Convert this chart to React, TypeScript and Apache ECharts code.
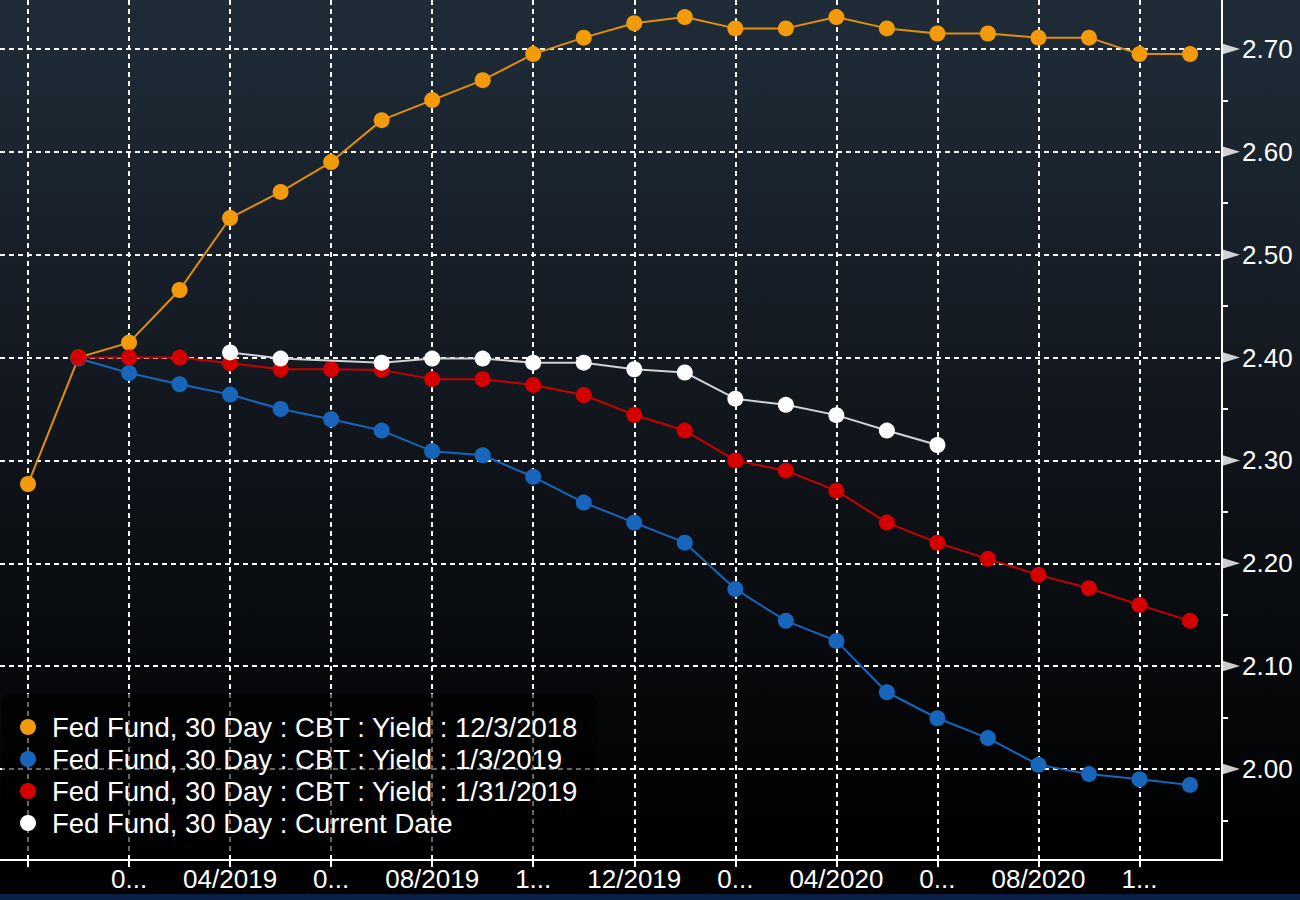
import React, { useEffect, useRef } from "react";
import * as echarts from "echarts";

const FONT = "'Liberation Sans', Arial, sans-serif";

const months = [
  "12/2018", "01/2019", "02/2019", "03/2019", "04/2019", "05/2019", "06/2019", "07/2019",
  "08/2019", "09/2019", "10/2019", "11/2019", "12/2019", "01/2020", "02/2020", "03/2020",
  "04/2020", "05/2020", "06/2020", "07/2020", "08/2020", "09/2020", "10/2020", "11/2020",
];

const xTickIndex = [0, 2, 4, 6, 8, 10, 12, 14, 16, 18, 20, 22];
const xTickLabels = ["", "0...", "04/2019", "0...", "08/2019", "1...", "12/2019", "0...", "04/2020", "0...", "08/2020", "1..."];

const yMajorTicks = [2.0, 2.1, 2.2, 2.3, 2.4, 2.5, 2.6, 2.7];
const yMinorTicks = [1.95, 2.05, 2.15, 2.25, 2.35, 2.45, 2.55, 2.65];

const seriesNames = [
  "Fed Fund, 30 Day : CBT : Yield : 12/3/2018",
  "Fed Fund, 30 Day : CBT : Yield : 1/3/2019",
  "Fed Fund, 30 Day : CBT : Yield : 1/31/2019",
  "Fed Fund, 30 Day : Current Date",
];

const yield20181203 = [
  2.277, 2.4, 2.4145, 2.4657, 2.5357, 2.561, 2.59, 2.6308, 2.6503, 2.6697, 2.695, 2.711,
  2.725, 2.731, 2.72, 2.72, 2.731, 2.72, 2.715, 2.715, 2.711, 2.711, 2.695, 2.695,
];
const yield20190103 = [
  null, 2.399, 2.385, 2.374, 2.364, 2.35, 2.34, 2.329, 2.309, 2.305, 2.284, 2.259,
  2.2395, 2.22, 2.175, 2.144, 2.1245, 2.0746, 2.0493, 2.03, 2.004, 1.995, 1.99, 1.9845,
];
const yield20190131 = [
  null, 2.4, 2.4, 2.4, 2.3945, 2.3886, 2.3886, 2.388, 2.379, 2.379, 2.3734, 2.3636,
  2.3442, 2.329, 2.3, 2.29, 2.2706, 2.2395, 2.22, 2.2043, 2.1887, 2.1757, 2.1595, 2.144,
];
const yieldCurrent = [
  null, null, null, null, 2.405, 2.399, null, 2.395, 2.399, 2.399, 2.395, 2.395,
  2.3886, 2.3855, 2.36, 2.354, 2.344, 2.329, 2.315, null, null, null, null, null,
];

const seriesValues = [yield20181203, yield20190103, yield20190131, yieldCurrent];
const dotColors = ["#f39a0b", "#1766bb", "#d40000", "#ffffff"];
const lineColors = ["#e08f0c", "#1766bb", "#c80000", "#cfd2d6"];

const X_MIN = -0.5542;
const X_MAX = 23.633;
const Y_MIN = 1.9115;
const Y_MAX = 2.7476;

function toPairs(vals: (number | null)[]) {
  return vals.map((v, i) => [i, v]).filter((d) => d[1] !== null);
}

export default function App() {
  const ref = useRef<HTMLDivElement>(null);

  useEffect(() => {
    document.body.style.margin = "0";
    const chart = echarts.init(ref.current!, null, { renderer: "svg" });

    const lineSeries = seriesNames.map((name, k) => ({
      name,
      type: "line",
      data: toPairs(seriesValues[k]),
      symbol: "circle",
      symbolSize: 16,
      showSymbol: true,
      itemStyle: { color: dotColors[k] },
      lineStyle: { color: lineColors[k], width: 2 },
      z: 3 + k,
    }));

    const option: any = {
      animation: false,
      backgroundColor: "transparent",
      grid: {
        left: 0,
        right: 78,
        top: 0,
        bottom: 34,
        containLabel: false,
        outerBoundsMode: "none",
      },
      legend: {
        data: seriesNames,
        orient: "vertical",
        left: 2,
        top: 694,
        itemGap: 4,
        padding: [19, 18, 16, 18],
        backgroundColor: "rgba(0,0,0,0.6)",
        borderRadius: 8,
        icon: "circle",
        itemWidth: 16,
        itemHeight: 16,
        selectedMode: false,
        textStyle: {
          color: "#ffffff",
          fontSize: 27.5,
          fontFamily: FONT,
          padding: [0, 0, 0, 11],
        },
        z: 20,
      },
      xAxis: {
        type: "value",
        min: X_MIN,
        max: X_MAX,
        axisLine: { show: true, onZero: false, lineStyle: { color: "#ffffff", width: 2 } },
        axisTick: {
          show: true,
          customValues: xTickIndex,
          length: 7,
          lineStyle: { color: "#ffffff", width: 2 },
        },
        axisLabel: {
          show: true,
          customValues: xTickIndex,
          color: "#ffffff",
          fontSize: 26,
          fontFamily: FONT,
          margin: 6,
          formatter: (v: number) => {
            const i = xTickIndex.indexOf(Math.round(v));
            return i >= 0 ? xTickLabels[i] : "";
          },
        },
        splitLine: {
          show: true,
          lineStyle: { color: "#ffffff", width: 2, type: [5, 4] },
        },
      },
      yAxis: [
        {
          type: "value",
          position: "right",
          min: Y_MIN,
          max: Y_MAX,
          axisLine: { show: true, onZero: false, lineStyle: { color: "#ffffff", width: 2 } },
          axisTick: { show: false, customValues: yMajorTicks },
          axisLabel: {
            show: true,
            customValues: yMajorTicks,
            color: "#ffffff",
            fontSize: 26,
            fontFamily: FONT,
            margin: 20,
            formatter: (v: number) => v.toFixed(2),
          },
          splitLine: {
            show: true,
            lineStyle: { color: "#ffffff", width: 2, type: [5, 4] },
          },
        },
        {
          type: "value",
          position: "right",
          min: Y_MIN,
          max: Y_MAX,
          axisLine: { show: false, onZero: false },
          axisTick: {
            show: true,
            customValues: yMinorTicks,
            length: 6,
            lineStyle: { color: "#ffffff", width: 2 },
          },
          axisLabel: { show: false },
          splitLine: { show: false },
        },
      ],
      series: [
        ...lineSeries,
        {
          name: "majorTicks",
          type: "scatter",
          yAxisIndex: 0,
          data: yMajorTicks.map((v) => [X_MAX, v]),
          symbol: "triangle",
          symbolSize: [11, 18],
          symbolRotate: -90,
          symbolOffset: [9, 0],
          itemStyle: { color: "#ffffff" },
          clip: false,
          silent: true,
          z: 10,
        },
      ],
    };

    chart.setOption(option);
    return () => chart.dispose();
  }, []);

  return (
    <div
      style={{
        position: "absolute",
        left: 0,
        top: 0,
        width: 1300,
        height: 900,
        background:
          "linear-gradient(180deg, #1f2c38 0%, #18212b 25%, #12171e 45%, #0a0d11 65%, #030405 85%, #000000 94%)",
        overflow: "hidden",
      }}
    >
      <div ref={ref} style={{ width: 1300, height: 894 }} />
      <div
        style={{
          position: "absolute",
          left: 0,
          top: 894,
          width: 1300,
          height: 6,
          background: "#0b2046",
        }}
      />
    </div>
  );
}
